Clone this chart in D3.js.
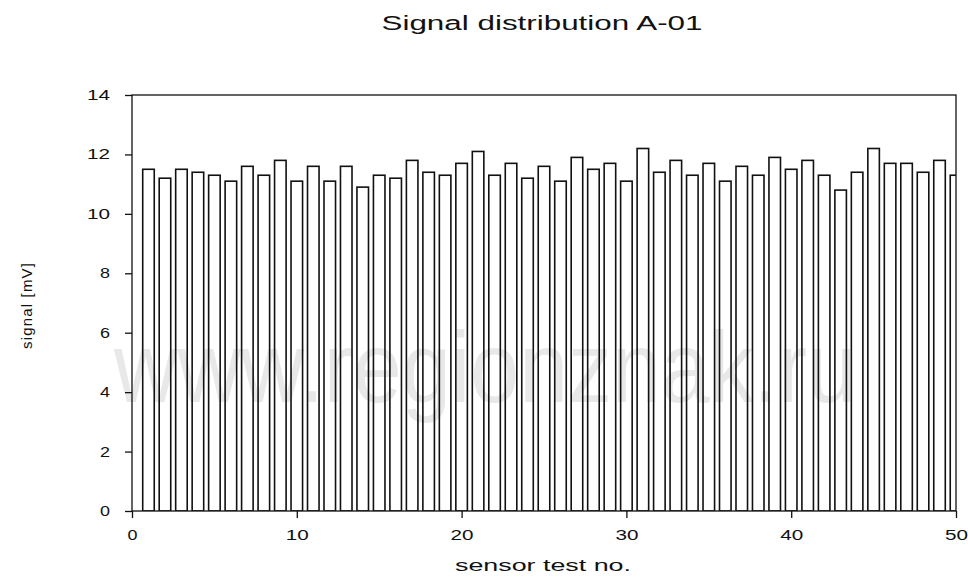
<!DOCTYPE html>
<html>
<head>
<meta charset="utf-8">
<script src="https://cdn.jsdelivr.net/npm/d3@7"></script>
<style>
  body { margin: 0; background: #fff; }
  text { font-family: "Liberation Sans", Arial, sans-serif; fill: #111; }
  .tick text { font-size: 14px; }
</style>
</head>
<body>
<div id="chart"></div>
<script>
// sensor test numbers and signal values [mV]
var tests = d3.range(1, 51);
var signal = [11.5, 11.2, 11.5, 11.4, 11.3, 11.1, 11.6, 11.3, 11.8, 11.1,
              11.6, 11.1, 11.6, 10.9, 11.3, 11.2, 11.8, 11.4, 11.3, 11.7,
              12.1, 11.3, 11.7, 11.2, 11.6, 11.1, 11.9, 11.5, 11.7, 11.1,
              12.2, 11.4, 11.8, 11.3, 11.7, 11.1, 11.6, 11.3, 11.9, 11.5,
              11.8, 11.3, 10.8, 11.4, 12.2, 11.7, 11.7, 11.4, 11.8, 11.3];
var xTicks = [0, 10, 20, 30, 40, 50];
var yTicks = [0, 2, 4, 6, 8, 10, 12, 14];

var W = 968, H = 579;
var margin = {top: 95, right: 12, bottom: 68, left: 132};
var width = W - margin.left - margin.right,
    height = H - margin.top - margin.bottom;

var svg = d3.select("#chart")
    .append("svg")
        .attr("width", W)
        .attr("height", H)
    .append("g")
        .attr("transform", "translate(" + margin.left + "," + margin.top + ")");

var x = d3.scaleLinear().domain([0, 50]).range([0, width]);
var y = d3.scaleLinear().domain([0, 14]).range([height, 0]);

// watermark
svg.append("text")
    .attr("x", 114 - margin.left)
    .attr("y", 402 - margin.top)
    .attr("textLength", 742)
    .attr("lengthAdjust", "spacingAndGlyphs")
    .style("font-size", "100px")
    .style("fill", "#e8e8e8")
    .text("www.regionznak.ru");

svg.append("clipPath").attr("id", "plot")
  .append("rect").attr("width", width).attr("height", height);

var barW = x(0.7) - x(0);
svg.append("g")
    .attr("clip-path", "url(#plot)")
  .selectAll("rect")
  .data(signal)
  .enter().append("rect")
    .attr("x", function(d, i) { return x(tests[i]) - barW / 2; })
    .attr("y", function(d) { return y(d); })
    .attr("width", barW)
    .attr("height", function(d) { return y(0) - y(d); })
    .style("fill", "none")
    .style("stroke", "#111")
    .style("stroke-width", 1.6);

// frame
svg.append("rect")
    .attr("width", width).attr("height", height)
    .style("fill", "none").style("stroke", "#111").style("stroke-width", 1.3);

var xAxis = svg.append("g")
    .attr("transform", "translate(0," + height + ")")
    .call(d3.axisBottom(x).tickValues(xTicks).tickSize(7).tickPadding(12));
var yAxis = svg.append("g")
    .call(d3.axisLeft(y).tickValues(yTicks).tickSize(7).tickPadding(15));
[xAxis, yAxis].forEach(function(a) {
    a.select(".domain").remove();
    a.selectAll("line").style("stroke", "#111").style("stroke-width", 1.3);
    // the original digits are wide and spaced out
    a.selectAll("text")
        .attr("textLength", function(d) { return 10 + 13 * (String(d).length - 1); })
        .attr("lengthAdjust", "spacingAndGlyphs");
});

// labels
svg.append("text")
    .attr("x", 542 - margin.left)
    .attr("y", 30 - margin.top)
    .attr("text-anchor", "middle")
    .attr("textLength", 321)
    .attr("lengthAdjust", "spacingAndGlyphs")
    .style("font-size", "20px")
    .text("Signal distribution A-01");

svg.append("text")
    .attr("x", 543 - margin.left)
    .attr("y", 571 - margin.top)
    .attr("text-anchor", "middle")
    .attr("textLength", 176)
    .attr("lengthAdjust", "spacingAndGlyphs")
    .style("font-size", "16px")
    .text("sensor test no.");

svg.append("text")
    .attr("transform", "translate(" + (32 - margin.left) + "," + (306 - margin.top) + ") rotate(-90)")
    .attr("text-anchor", "middle")
    .attr("textLength", 86)
    .style("font-size", "15px")
    .text("signal [mV]");
</script>
</body>
</html>
